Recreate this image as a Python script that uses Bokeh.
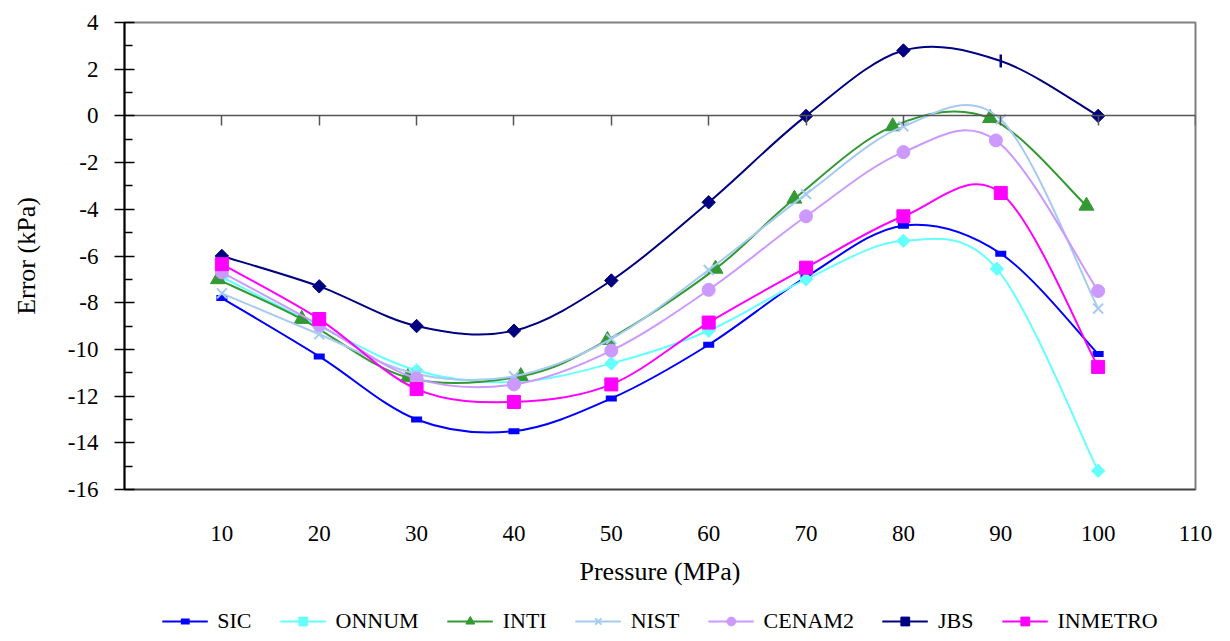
import numpy as np
from bokeh.plotting import figure
from bokeh.layouts import column
from bokeh.models import (Range1d, FixedTicker, LinearAxis, Legend, LegendItem,
                          ColumnDataSource)
from bokeh.embed import file_html
from bokeh.resources import INLINE

# ---------------- data ----------------
x_ticks = [10, 20, 30, 40, 50, 60, 70, 80, 90, 100, 110]
y_ticks = [-16, -14, -12, -10, -8, -6, -4, -2, 0, 2, 4]
y_tick_labels = ["-16", "-14", "-12", "-10", "-8", "-6", "-4", "-2", "0", "2", "4"]

sic_x = [10, 20, 30, 40, 50, 60, 70, 80, 90, 100]
sic_y = [-7.8, -10.3, -13.0, -13.5, -12.1, -9.8, -6.9, -4.7, -5.9, -10.2]

onnum_x = [10, 20, 30, 40, 50, 60, 70, 80, 89.6, 100]
onnum_y = [-6.9, -9.0, -10.9, -11.4, -10.6, -9.2, -7.0, -5.35, -6.55, -15.2]

inti_x = [9.6, 18.2, 29.1, 40.7, 49.6, 60.7, 68.8, 78.9, 88.9, 98.8]
inti_y = [-7.0, -8.7, -11.2, -11.15, -9.6, -6.55, -3.55, -0.45, -0.1, -3.85]

nist_x = [10, 20, 30, 40, 50, 60, 70, 80, 90, 100]
nist_y = [-7.6, -9.35, -11.05, -11.15, -9.55, -6.6, -3.35, -0.45, -0.15, -8.25]

cenam_x = [10, 20, 30, 40, 50, 60, 70, 80, 89.5, 100]
cenam_y = [-6.7, -8.95, -11.25, -11.5, -10.05, -7.45, -4.3, -1.55, -1.05, -7.5]

jbs_x = [10, 20, 30, 40, 50, 60, 70, 80, 90, 100]
jbs_y = [-6.0, -7.3, -9.0, -9.2, -7.05, -3.7, 0.0, 2.8, 2.35, 0.0]

inmetro_x = [10, 20, 30, 40, 50, 60, 70, 80, 90, 100]
inmetro_y = [-6.35, -8.7, -11.7, -12.25, -11.5, -8.85, -6.5, -4.3, -3.3, -10.75]

FONT = "'Liberation Serif', 'Times New Roman', serif"

# ---------------- main figure ----------------
p = figure(width=1230, height=600, output_backend="svg", toolbar_location=None,
           x_range=Range1d(0, 110), y_range=Range1d(-16, 4),
           min_border_left=124, min_border_right=35, min_border_top=22,
           min_border_bottom=111)
p.grid.visible = False
p.outline_line_color = "#808080"
p.outline_line_width = 2
p.background_fill_color = "white"
p.border_fill_color = "white"

# x axis (labels at the bottom)
xa = p.xaxis[0]
xa.ticker = FixedTicker(ticks=x_ticks)
xa.axis_line_color = "#404040"
xa.axis_line_width = 1.5
xa.major_tick_line_color = None
xa.minor_tick_line_color = None
xa.major_tick_out = 0
xa.major_tick_in = 0
xa.major_label_standoff = 36
xa.major_label_text_font = FONT
xa.major_label_text_font_size = "23px"
xa.major_label_text_color = "black"
xa.axis_label = "Pressure (MPa)"
xa.axis_label_text_font = FONT
xa.axis_label_text_font_size = "26px"
xa.axis_label_text_font_style = "normal"
xa.axis_label_text_color = "black"
xa.axis_label_standoff = 13

# x axis line crossing at y = 0
xa0 = LinearAxis(fixed_location=0, ticker=FixedTicker(ticks=x_ticks))
xa0.axis_line_color = "#555555"
xa0.axis_line_width = 1.5
xa0.major_tick_line_color = "#555555"
xa0.major_tick_line_width = 1.5
xa0.major_tick_out = 10
xa0.major_tick_in = 0
xa0.minor_tick_line_color = None
xa0.major_label_overrides = {t: "" for t in x_ticks}
xa0.major_label_text_font_size = "1px"
xa0.major_label_standoff = 0
p.add_layout(xa0, "below")

# y axis
ya = p.yaxis[0]
ya.ticker = FixedTicker(ticks=y_ticks, minor_ticks=[v + 1 for v in y_ticks[:-1]])
ya.major_label_overrides = {t: s for t, s in zip(y_ticks, y_tick_labels)}
ya.axis_line_color = "black"
ya.axis_line_width = 2
ya.major_tick_line_color = "black"
ya.major_tick_line_width = 1.5
ya.major_tick_in = 10
ya.major_tick_out = 10
ya.minor_tick_line_color = "black"
ya.minor_tick_line_width = 1.5
ya.minor_tick_in = 8
ya.minor_tick_out = 0
ya.major_label_standoff = 16
ya.major_label_text_font = FONT
ya.major_label_text_font_size = "23px"
ya.major_label_text_color = "black"
ya.axis_label = "Error (kPa)"
ya.axis_label_text_font = FONT
ya.axis_label_text_font_size = "26px"
ya.axis_label_text_font_style = "normal"
ya.axis_label_text_color = "black"
ya.axis_label_standoff = 24

# ---------------- legend strip (separate figure, nothing plotted in view) -------
leg = figure(width=1230, height=41, output_backend="svg", toolbar_location=None,
             x_range=Range1d(0, 110), y_range=Range1d(1000, 1001),
             min_border=0, outline_line_color=None)
leg.axis.visible = False
leg.grid.visible = False
leg.border_fill_color = "white"


def smooth_source(xs, ys):
    """Bezier segments through the points (Excel-style smoothed line)."""
    x = np.asarray(xs, float)
    y = np.asarray(ys, float)
    n = len(x)
    qx = np.concatenate([[x[0]], x, [x[-1]]])
    qy = np.concatenate([[y[0]], y, [y[-1]]])
    cx0 = x[:-1] + (qx[2:n + 1] - qx[0:n - 1]) / 6.0
    cy0 = y[:-1] + (qy[2:n + 1] - qy[0:n - 1]) / 6.0
    cx1 = x[1:] - (qx[3:n + 2] - qx[1:n]) / 6.0
    cy1 = y[1:] - (qy[3:n + 2] - qy[1:n]) / 6.0
    return dict(x0=x[:-1], y0=y[:-1], x1=x[1:], y1=y[1:],
                cx0=cx0, cy0=cy0, cx1=cx1, cy1=cy1)


def add_series(fig, xs, ys, color, mk):
    c = fig.bezier(x0="x0", y0="y0", x1="x1", y1="y1", cx0="cx0", cy0="cy0",
                   cx1="cx1", cy1="cy1", source=ColumnDataSource(smooth_source(xs, ys)),
                   line_color=color, line_width=2)
    src = ColumnDataSource(dict(x=xs, y=ys, **mk))
    m = fig.scatter("x", "y", marker="marker", angle="angle", size="size",
                    line_width="lw", fill_color=color, line_color=color, source=src)
    return [c, m]


def style(n, marker, angle, size, lw):
    return dict(marker=[marker] * n, angle=[angle] * n, size=[size] * n, lw=[lw] * n)


D = np.pi / 4
jbs_style = dict(marker=["square"] * 8 + ["dash"] + ["square"],
                 angle=[D] * 8 + [np.pi / 2] + [D],
                 size=[9.5] * 8 + [13] + [9.5],
                 lw=[1] * 8 + [2.5] + [1])

series = [
    ("SIC", sic_x, sic_y, "#0000FF", style(10, "dash", 0, 11, 6)),
    ("ONNUM", onnum_x, onnum_y, "#66FFFF", style(10, "square", D, 9.5, 1)),
    ("INTI", inti_x, inti_y, "#339933", style(10, "triangle", 0, 15, 1)),
    ("NIST", nist_x, nist_y, "#A6CAF0", style(10, "x", 0, 14, 2)),
    ("CENAM2", cenam_x, cenam_y, "#CC99FF", style(10, "circle", 0, 13, 1)),
    ("JBS", jbs_x, jbs_y, "#000080", jbs_style),
    ("INMETRO", inmetro_x, inmetro_y, "#FF00FF", style(10, "square", 0, 13, 1)),
]

items = []
for name, xs, ys, color, mk in series:
    add_series(p, xs, ys, color, mk)
    rs = add_series(leg, xs, ys, color, mk)
    items.append(LegendItem(label=name, renderers=rs))

legend = Legend(items=items, orientation="horizontal", location="center",
                glyph_width=46, glyph_height=22, label_standoff=10, spacing=28,
                padding=4, margin=0, border_line_color=None,
                background_fill_alpha=0,
                label_text_font=FONT, label_text_font_size="22px",
                label_text_color="black")
leg.add_layout(legend, "center")

layout = column(p, leg, spacing=0)
open("out.html", "w").write(file_html(layout, INLINE))
